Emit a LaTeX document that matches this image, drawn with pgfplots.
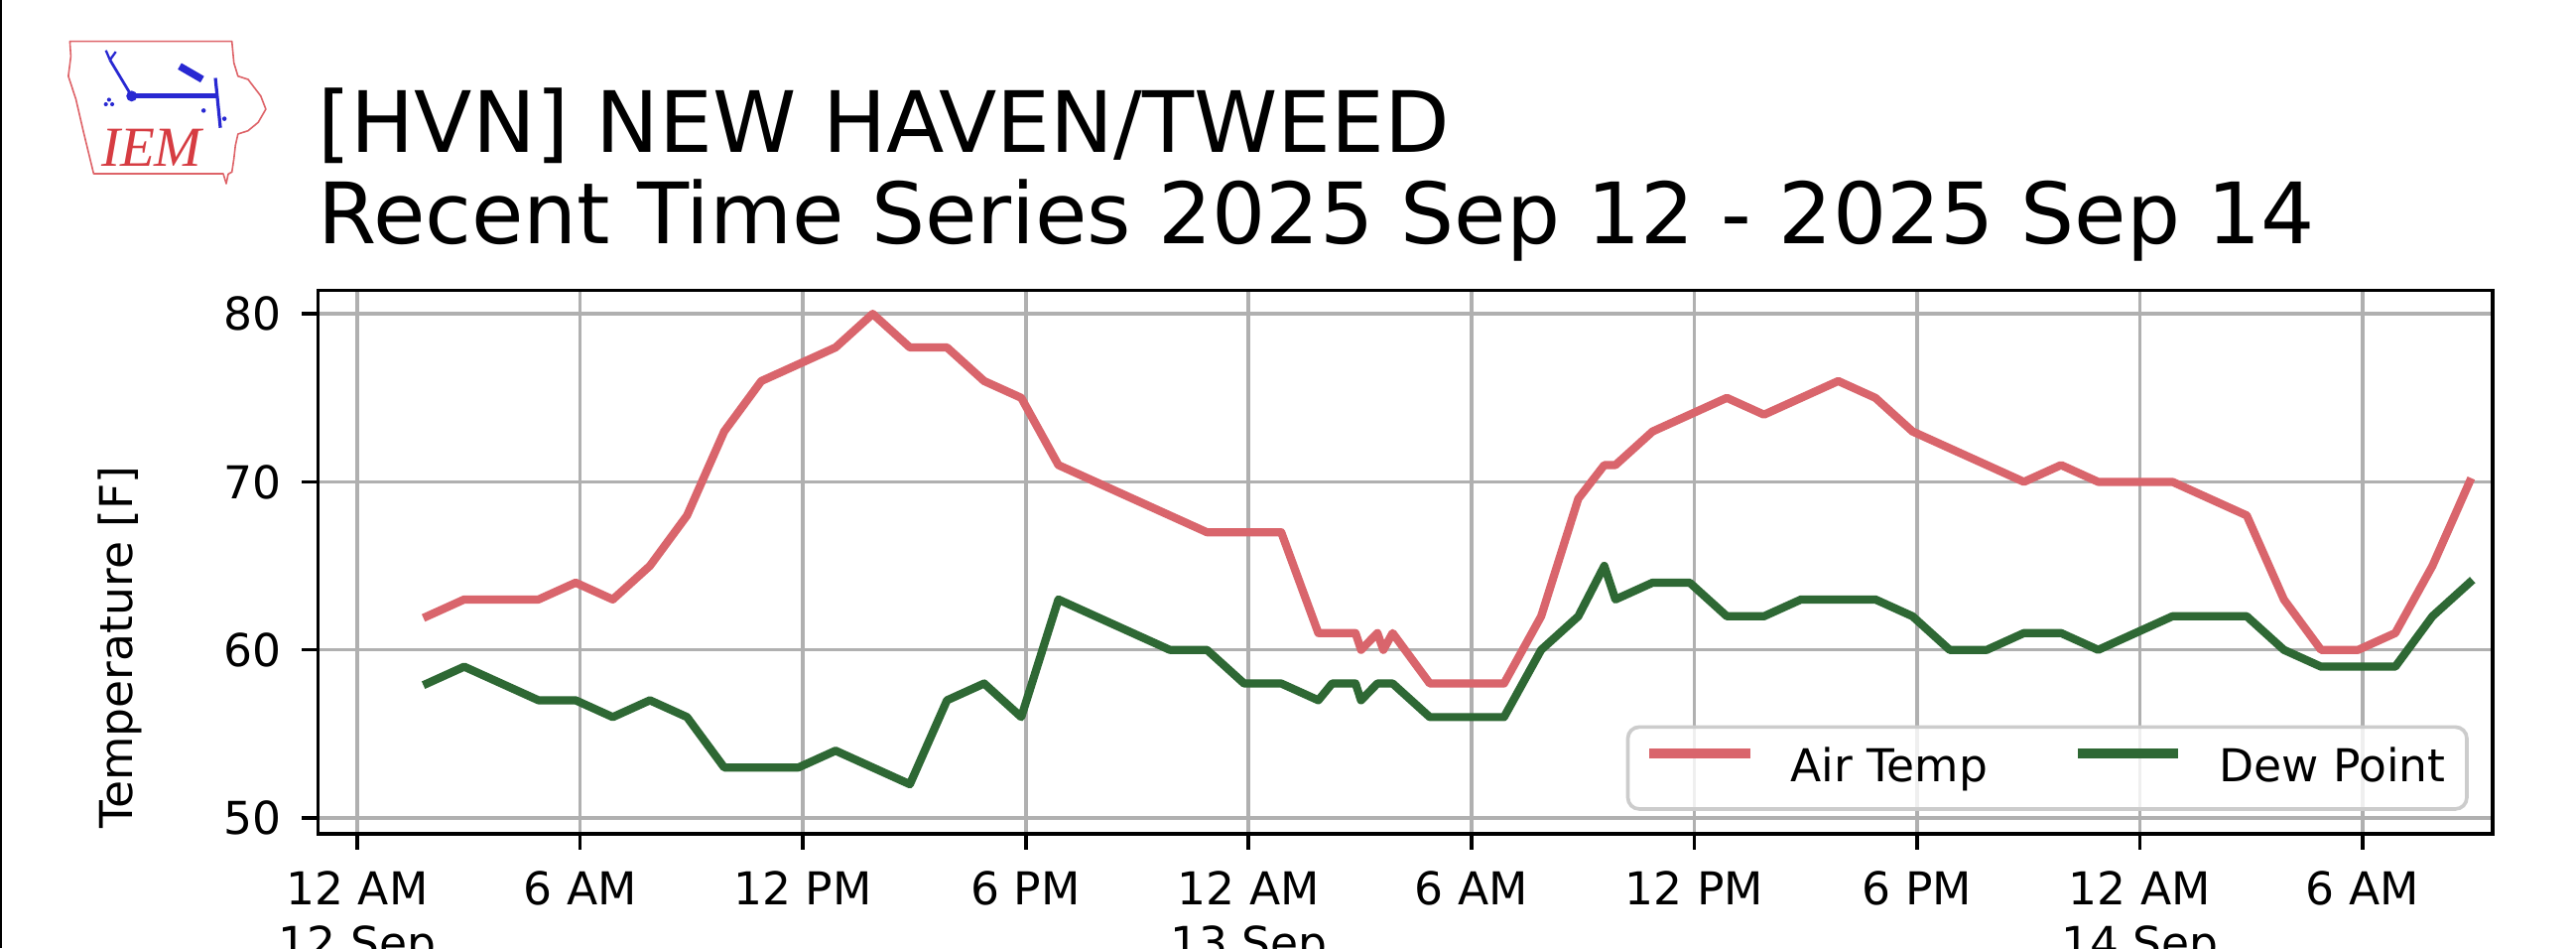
\documentclass[border=0pt]{standalone}
\usepackage{fontspec}
\setmainfont{DejaVu Sans}
\newfontfamily\logofont{Liberation Serif}
\usepackage{pgfplots}
\usepackage{pgfplotstable}
\pgfplotsset{compat=1.18}
\definecolor{airT}{RGB}{217,101,108}
\definecolor{dewP}{RGB}{46,104,52}
\definecolor{gridc}{RGB}{176,176,176}
\definecolor{legedge}{RGB}{204,204,204}
\definecolor{logored}{RGB}{214,60,66}
\definecolor{logoblue}{RGB}{40,40,210}

\pgfplotstableread{
t T D
1.88 62 58
2.88 63 59
3.88 63 58
4.88 63 57
5.88 64 57
6.88 63 56
7.88 65 57
8.88 68 56
9.88 73 53
10.88 76 53
11.88 77 53
12.88 78 54
13.88 80 53
14.88 78 52
15.88 78 57
16.88 76 58
17.88 75 56
18.88 71 63
19.88 70 62
20.88 69 61
21.88 68 60
22.88 67 60
23.88 67 58
24.88 67 58
25.88 61 57
26.25 61 58
26.88 61 58
27.03 60 57
27.47 61 58
27.63 60 58
27.88 61 58
28.88 58 56
29.88 58 56
30.88 58 56
31.88 62 60
32.88 69 62
33.58 71 65
33.88 71 63
34.88 73 64
35.88 74 64
36.88 75 62
37.88 74 62
38.88 75 63
39.88 76 63
40.88 75 63
41.88 73 62
42.88 72 60
43.88 71 60
44.88 70 61
45.88 71 61
46.88 70 60
47.88 70 61
48.88 70 62
49.88 69 62
50.88 68 62
51.88 63 60
52.88 60 59
53.88 60 59
54.88 61 59
55.88 65 62
56.88 70 64
}\obs

\begin{document}
\begin{tikzpicture}
\fill[white] (0,0) rectangle (569.3pt,209.43pt);
\path[use as bounding box] (0,0) rectangle (569.3pt,209.43pt);
\draw[black, line width=0.4pt] (0.2pt,0) -- (0.2pt,209.43pt);
% logo
\draw[logored!80, line width=0.35pt, line join=round]
 (15.44pt,200.29pt) -- (51.25pt,200.29pt) -- (51.69pt,195.55pt) -- (52.59pt,192.61pt)
 -- (54.82pt,191.89pt) -- (57.63pt,188.22pt) -- (58.75pt,185.31pt) -- (57.06pt,182.39pt)
 -- (54.82pt,180.55pt) -- (52.59pt,179.82pt) -- (52.02pt,177.26pt) -- (51.69pt,174.34pt)
 -- (51.25pt,171.42pt) -- (50.44pt,170.99pt) -- (50.0pt,168.86pt) -- (49.34pt,171.05pt)
 -- (20.7pt,171.05pt) -- (18.46pt,180.26pt) -- (16.78pt,187.5pt) -- (15.11pt,192.61pt)
 -- (15.66pt,197.0pt) -- cycle;
\node[anchor=base west, inner sep=0pt, text=logored, font=\logofont\itshape\fontsize{12.5}{12.5}\selectfont] at (22.2pt,172.6pt) {IEM};
\draw[logoblue, line width=1.1pt] (29.1pt,188.2pt) -- (48.1pt,188.2pt);
\fill[logoblue] (29.1pt,188.2pt) circle (1.2pt);
\draw[logoblue, line width=0.6pt] (29.1pt,188.2pt) -- (24.3pt,196.2pt);
\draw[logoblue, line width=0.5pt] (24.3pt,196.2pt) -- (23.4pt,198.3pt);
\draw[logoblue, line width=0.5pt] (24.3pt,196.2pt) -- (25.6pt,198.0pt);
\draw[logoblue, line width=0.7pt] (47.6pt,192.2pt) -- (48.7pt,181.2pt);
\draw[logoblue, line width=1.6pt] (39.7pt,194.8pt) -- (44.7pt,191.9pt);
\fill[logoblue] (24.1pt,187.4pt) circle (0.45pt) (23.4pt,186.4pt) circle (0.45pt) (24.8pt,186.4pt) circle (0.45pt);
\fill[logoblue] (45.0pt,185.0pt) circle (0.5pt) (49.6pt,183.2pt) circle (0.5pt);
% title
\node[anchor=base west, inner sep=0pt, font=\fontsize{18.7}{20}\selectfont] at (70.1pt,175.8pt) {[HVN] NEW HAVEN/TWEED};
\node[anchor=base west, inner sep=0pt, font=\fontsize{18.7}{20}\selectfont] at (70.1pt,155.7pt) {Recent Time Series 2025 Sep 12 - 2025 Sep 14};
% y label
\node[rotate=90, inner sep=0pt, font=\fontsize{10}{12}\selectfont] at (26.5pt,66.4pt) {Temperature [F]};
\begin{axis}[
  at={(70.26pt,25.22pt)}, anchor=south west,
  scale only axis, width=480.6pt, height=120.07pt,
  xmin=-1.06, xmax=57.5, ymin=49.05, ymax=81.4,
  xtick={0,6,...,54},
  xticklabels={{12 AM\\12 Sep},{6 AM},{12 PM},{6 PM},{12 AM\\13 Sep},{6 AM},{12 PM},{6 PM},{12 AM\\14 Sep},{6 AM}},
  ytick={50,60,70,80},
  tick align=outside, tick pos=left,
  major tick length=3.5pt,
  every tick/.style={black, line width=0.8pt},
  grid=major,
  major grid style={gridc, line width=0.8pt},
  axis line style={black, line width=0.8pt},
  ticklabel style={font=\fontsize{10}{12}\selectfont},
  xticklabel style={align=center, yshift=-1.2pt},
  yticklabel style={xshift=-1pt},
  /pgf/number format/assume math mode=true,
  legend columns=2,
  legend image code/.code={\draw[#1, line width=2.3pt, line cap=rect] (1pt,3.2pt) -- (21pt,3.2pt);},
  legend style={
    at={(1,0)}, anchor=south east, xshift=-5.3pt, yshift=5.1pt,
    draw=legedge, line width=0.8pt, rounded corners=2.5pt,
    fill=white, fill opacity=0.8, draw opacity=1, text opacity=1,
    font=\fontsize{10}{12}\selectfont,
    inner xsep=4.7pt, inner ysep=4.5pt,
    nodes={inner sep=0pt},
    /tikz/every odd column/.append style={column sep=9pt},
    /tikz/every even column/.append style={column sep=19.8pt},
  },
]
\addplot[airT, line width=1.8pt, line join=round, line cap=rect] table[x=t, y=T] {\obs};
\addlegendentry{Air Temp}
\addplot[dewP, line width=1.8pt, line join=round, line cap=rect] table[x=t, y=D] {\obs};
\addlegendentry{Dew Point}
\end{axis}
\end{tikzpicture}
\end{document}
